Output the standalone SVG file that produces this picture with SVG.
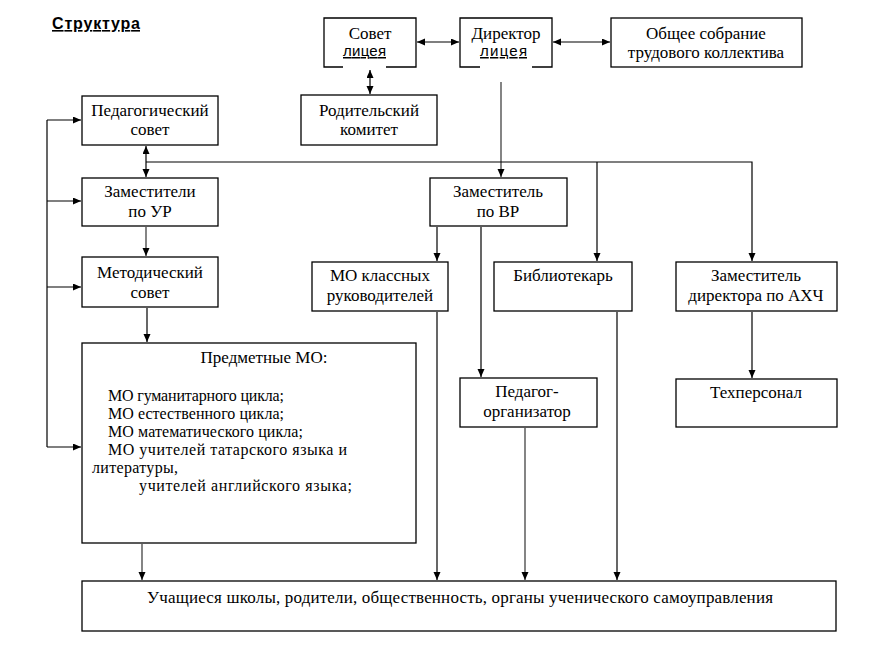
<svg xmlns="http://www.w3.org/2000/svg" width="883" height="659" viewBox="0 0 883 659">
<defs>
<marker id="ah" markerUnits="userSpaceOnUse" markerWidth="9" markerHeight="8" refX="8" refY="3.5" orient="auto-start-reverse"><path d="M0,0 L8,3.5 L0,7 z" fill="#000"/></marker>
</defs>
<style>
.box{fill:#fff;stroke:#000;stroke-width:1.3}
.t{font-family:"Liberation Serif","Times New Roman",serif;font-size:17px;fill:#000}
.l{font-family:"Liberation Serif","Times New Roman",serif;font-size:16px;fill:#000}
.c{text-anchor:middle}
.s{font-family:"Liberation Sans",Arial,sans-serif;font-size:15px;fill:#000;text-decoration:underline}
.ln{fill:none;stroke:#000;stroke-width:1.2}
.g{stroke:#666;stroke-width:1.6}
.a{marker-end:url(#ah)}
.d{marker-start:url(#ah);marker-end:url(#ah)}
</style>
<rect width="883" height="659" fill="#fff"/>
<text x="52" y="29" font-family="Liberation Sans,Arial,sans-serif" font-size="16" font-weight="bold" textLength="88" text-decoration="underline">Структура </text>

<g id="connectors">
<line class="ln d" x1="417" y1="42" x2="459" y2="42"/>
<line class="ln d" x1="553" y1="42" x2="610" y2="42"/>
<line class="ln d" x1="370" y1="70" x2="370" y2="94"/>
<line class="ln g a" x1="501" y1="82" x2="501" y2="177"/>
<path class="ln" d="M47,447 V120"/>
<line class="ln a" x1="47" y1="120" x2="81" y2="120"/>
<line class="ln a" x1="47" y1="201" x2="81" y2="201"/>
<line class="ln a" x1="47" y1="287" x2="81" y2="287"/>
<line class="ln a" x1="47" y1="447" x2="81" y2="447"/>
<line class="ln d" x1="146" y1="146" x2="146" y2="177"/>
<path class="ln a" d="M146,162 H752 V261"/>
<line class="ln a" x1="597" y1="162" x2="597" y2="261"/>
<line class="ln g a" x1="146" y1="227" x2="146" y2="256"/>
<line class="ln a" x1="147" y1="308" x2="147" y2="342"/>
<line class="ln a" x1="437" y1="227" x2="437" y2="261"/>
<line class="ln a" x1="481" y1="227" x2="481" y2="377"/>
<line class="ln a" x1="752" y1="312" x2="752" y2="378"/>
<line class="ln g a" x1="142" y1="544" x2="142" y2="580"/>
<line class="ln a" x1="437" y1="312" x2="437" y2="580"/>
<line class="ln g a" x1="525" y1="428" x2="525" y2="580"/>
<line class="ln a" x1="617" y1="312" x2="617" y2="580"/>
</g>

<g id="sovet">
<path class="box" d="M343,67 H324 V18 H416 V67 H386"/>
<text class="t c" x="370" y="39">Совет</text>
<text class="s" x="343" y="56" textLength="43">лицея</text>
</g>
<g id="director">
<path class="box" d="M480,67 H460 V18 H552 V67 H532"/>
<text class="t c" x="506" y="39">Директор</text>
<text class="s" x="480" y="56" textLength="47">лицея</text>
</g>
<g id="obschee">
<rect class="box" x="611" y="18" width="191" height="49"/>
<text class="t c" x="706" y="39">Общее собрание</text>
<text class="t c" x="706" y="58">трудового коллектива</text>
</g>
<g id="roditel">
<rect class="box" x="301" y="95" width="136" height="50"/>
<text class="t c" x="369" y="116">Родительский</text>
<text class="t c" x="369" y="135">комитет</text>
</g>
<g id="pedsovet">
<rect class="box" x="82" y="96" width="136" height="49"/>
<text class="t c" x="150" y="116">Педагогический</text>
<text class="t c" x="150" y="135">совет</text>
</g>
<g id="zam-ur">
<rect class="box" x="82" y="178" width="136" height="48"/>
<text class="t c" x="150" y="197">Заместители</text>
<text class="t c" x="150" y="217">по УР</text>
</g>
<g id="metod">
<rect class="box" x="82" y="257" width="136" height="50"/>
<text class="t c" x="150" y="278">Методический</text>
<text class="t c" x="150" y="298">совет</text>
</g>
<g id="predmet">
<rect class="box" x="82" y="343" width="334" height="200"/>
<text class="t c" x="264" y="363">Предметные МО:</text>
<text class="l" x="108" y="401" textLength="176">МО гуманитарного цикла;</text>
<text class="l" x="108" y="419" textLength="176">МО естественного цикла;</text>
<text class="l" x="108" y="437" textLength="195">МО математического цикла;</text>
<text class="l" x="108" y="455" textLength="239">МО учителей татарского языка и</text>
<text class="l" x="92" y="473" textLength="86">литературы,</text>
<text class="l" x="139" y="491" textLength="213">учителей английского языка;</text>
</g>
<g id="zam-vr">
<rect class="box" x="430" y="178" width="137" height="48"/>
<text class="t c" x="498" y="197">Заместитель</text>
<text class="t c" x="498" y="217">по ВР</text>
</g>
<g id="mo-kl">
<rect class="box" x="312" y="262" width="136" height="49"/>
<text class="t c" x="380" y="281">МО классных</text>
<text class="t c" x="380" y="301">руководителей</text>
</g>
<g id="bibl">
<rect class="box" x="494" y="262" width="138" height="49"/>
<text class="t c" x="563" y="281">Библиотекарь</text>
</g>
<g id="zam-ahch">
<rect class="box" x="676" y="262" width="161" height="49"/>
<text class="t c" x="756" y="281">Заместитель</text>
<text class="t c" x="756" y="301">директора по АХЧ</text>
</g>
<g id="pedorg">
<rect class="box" x="460" y="378" width="137" height="49"/>
<text class="t c" x="527" y="397">Педагог-</text>
<text class="t c" x="527" y="417">организатор</text>
</g>
<g id="tech">
<rect class="box" x="676" y="379" width="161" height="48"/>
<text class="t c" x="756" y="398">Техперсонал</text>
</g>
<g id="bottom">
<rect class="box" x="82" y="581" width="754" height="50"/>
<text class="t c" x="460" y="603" textLength="626">Учащиеся школы, родители, общественность, органы ученического самоуправления</text>
</g>
</svg>
